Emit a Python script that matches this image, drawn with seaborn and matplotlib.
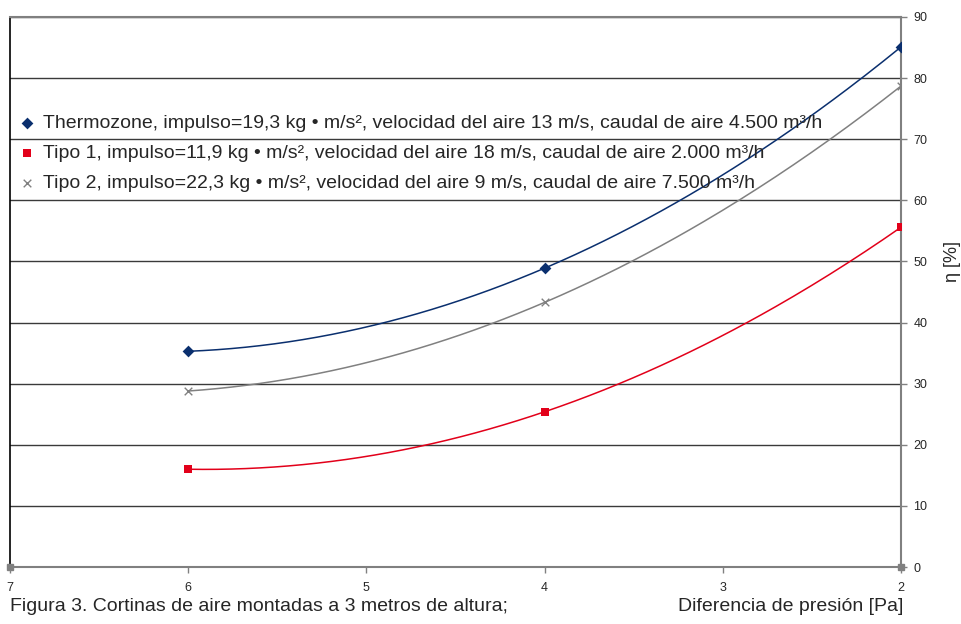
import numpy as np
import pandas as pd
import matplotlib
matplotlib.use("Agg")
import matplotlib.pyplot as plt
import seaborn as sns

# Datos
presion = [6, 4, 2]
thermozone = [35.3, 48.9, 85.1]
tipo1 = [16.0, 25.4, 55.6]
tipo2 = [28.8, 43.3, 78.7]

etiquetas = [
    "Thermozone, impulso=19,3 kg • m/s², velocidad del aire 13 m/s, caudal de aire 4.500 m³/h",
    "Tipo 1, impulso=11,9 kg • m/s², velocidad del aire 18 m/s, caudal de aire 2.000 m³/h",
    "Tipo 2, impulso=22,3 kg • m/s², velocidad del aire 9 m/s, caudal de aire 7.500 m³/h",
]
colores = ["#0a2f6e", "#e2001a", "#808080"]
marcadores = ["D", "s", "x"]
tamanos = [36, 36, 30]

sns.set_style("white")
plt.rcParams["font.family"] = ["Liberation Sans", "DejaVu Sans"]

fig = plt.figure(figsize=(9.61, 6.24), dpi=100)
ax = fig.add_axes([0.0104, 0.0913, 0.9272, 0.8815])

series = [thermozone, tipo1, tipo2]
for valores, etiqueta, color, marcador, tam in zip(series, etiquetas, colores, marcadores, tamanos):
    # curva suavizada (interpolación cuadrática por los 3 puntos)
    coef = np.polyfit(presion, valores, 2)
    xs = np.linspace(min(presion), max(presion), 200)
    ax.plot(xs, np.polyval(coef, xs), color=color, lw=1.1, zorder=3)
    df = pd.DataFrame({"x": presion, "y": valores})
    sns.scatterplot(data=df, x="x", y="y", ax=ax, color=color, marker=marcador,
                    s=tam, linewidth=1 if marcador == "x" else 0, label=etiqueta, zorder=4)

ax.set_xlim(7, 2)
ax.set_ylim(0, 90)
ax.set_xticks([7, 6, 5, 4, 3, 2])
ax.set_yticks(range(0, 91, 10))
ax.set_xlabel("")
ax.set_ylabel("")

ax.yaxis.tick_right()
ax.yaxis.set_label_position("right")
ax.grid(axis="y", color="#3a3a3a", lw=1)
ax.grid(axis="x", visible=False)
ax.set_axisbelow(True)

ax.tick_params(axis="both", labelsize=9, color="#808080", length=4, width=1,
               direction="out", pad=5)
ax.tick_params(axis="y", left=False, right=True)
ax.tick_params(axis="x", bottom=True, pad=7)

ax.spines["top"].set_color("#808080")
ax.spines["top"].set_linewidth(1.5)
ax.spines["left"].set_color("black")
ax.spines["left"].set_linewidth(1.2)
ax.spines["right"].set_color("#808080")
ax.spines["right"].set_linewidth(1.5)
ax.spines["bottom"].set_color("#808080")
ax.spines["bottom"].set_linewidth(1.5)

# marcas grises en los extremos del eje
ax.plot([0, 1], [0, 0], transform=ax.transAxes, ls="", marker="s", ms=5,
        color="#808080", clip_on=False, zorder=5)

ax.text(1.058, 0.555, "η [%]", transform=ax.transAxes, rotation=90,
        fontsize=13, va="center", ha="center")

leg = ax.legend(loc="upper left", bbox_to_anchor=(0.0078, 0.823), frameon=False,
                fontsize=14, handletextpad=0.35, labelspacing=0.63, borderaxespad=0,
                borderpad=0, handlelength=1.0)

fig.text(0.0104, 0.0288, "Figura 3. Cortinas de aire montadas a 3 metros de altura;",
         fontsize=14, ha="left", va="center")
fig.text(0.9396, 0.0288, "Diferencia de presión [Pa]", fontsize=14, ha="right", va="center")

fig.savefig("out.png", dpi=100)
